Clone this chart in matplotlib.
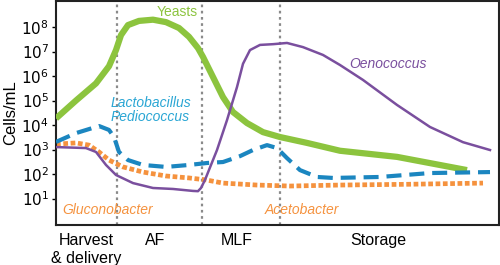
import numpy as np
import matplotlib
matplotlib.use("Agg")
import matplotlib.pyplot as plt
import matplotlib.transforms as mtrans

plt.rcParams['font.family'] = ['Liberation Sans', 'DejaVu Sans']

# x positions are in arbitrary time units across the process (0 = harvest start)
stage_labels = ["Harvest\n& delivery", "AF", "MLF", "Storage"]
stage_centers = [30, 99, 181, 322]
dividers = [61, 146, 224]

# values given as log10(cells/mL)
yeast_x = [0, 20, 40, 53, 60, 65, 72, 83, 97, 110, 123, 133, 142, 147, 157, 167, 177, 191, 207, 224, 251, 284, 341, 411]
yeast_log = [4.27, 5.0, 5.7, 6.4, 7.06, 7.67, 8.08, 8.25, 8.3, 8.2, 7.96, 7.6, 7.14, 6.78, 5.96, 5.14, 4.53, 4.08, 3.71, 3.51, 3.27, 2.95, 2.7, 2.16]

oeno_x = [0, 30, 40, 50, 60, 77, 97, 117, 137, 142, 145, 149, 161, 171, 181, 187, 194, 204, 217, 231, 247, 267, 284, 307, 341, 374, 407, 434]
oeno_log = [3.1, 3.06, 2.9, 2.37, 1.96, 1.63, 1.43, 1.39, 1.31, 1.3, 1.43, 1.76, 2.98, 4.2, 5.55, 6.5, 7.06, 7.27, 7.3, 7.35, 7.18, 6.86, 6.45, 5.84, 4.82, 3.92, 3.3, 2.98]

lacto_x = [0, 20, 43, 53, 58, 63, 72, 87, 110, 133, 151, 167, 184, 197, 211, 221, 231, 244, 261, 277, 324, 374, 434]
lacto_log = [3.31, 3.67, 3.96, 3.8, 3.51, 2.9, 2.57, 2.37, 2.29, 2.37, 2.45, 2.49, 2.73, 2.98, 3.18, 3.06, 2.65, 2.16, 1.88, 1.84, 1.88, 2.04, 2.08]

aceto_x = [0, 20, 33, 43, 53, 67, 87, 110, 133, 150, 167, 201, 234, 284, 350, 427]
aceto_log = [3.22, 3.27, 3.18, 2.9, 2.57, 2.29, 2.08, 1.92, 1.84, 1.76, 1.63, 1.55, 1.51, 1.55, 1.58, 1.63]

green = "#8cc43e"
purple = "#7a4f9e"
blue = "#1b86c0"
lblue = "#2aa6d4"
orange = "#f5923e"

fig = plt.figure(figsize=(5, 2.65), dpi=100)
ax = fig.add_axes([0.112, 0.151, 0.886, 0.845])
ax.set_yscale("log")
ax.set_xlim(0, 443)
ax.set_ylim(10**-0.08, 10**9.06)

for d in dividers:
    ax.axvline(d, color="#8a8a8a", linestyle=(0, (1.2, 1.6)), linewidth=1.6, zorder=1)

ax.plot(yeast_x, 10**np.array(yeast_log), color=green, lw=4.5, solid_capstyle="butt", solid_joinstyle="round", zorder=3)
ax.plot(oeno_x, 10**np.array(oeno_log), color=purple, lw=1.8, solid_joinstyle="round", zorder=4)
ax.plot(lacto_x, 10**np.array(lacto_log), color=blue, lw=3.0, linestyle=(0, (3.6, 1.9)), dash_capstyle="butt", zorder=5)
ax.plot(aceto_x, 10**np.array(aceto_log), color=orange, lw=3.4, linestyle=(0, (1.0, 0.55)), dash_capstyle="butt", zorder=2)

ax.set_yticks([10**k for k in range(1, 9)])
ax.set_yticklabels([r"$10^{%d}$" % k for k in range(1, 9)])
ax.yaxis.set_minor_locator(matplotlib.ticker.NullLocator())
ax.tick_params(axis="y", direction="out", length=3, width=1, labelsize=11, pad=2)
ax.set_xticks([])
for s in ax.spines.values():
    s.set_linewidth(1.5)
    s.set_color("#222222")
ax.set_ylabel("Cells/mL", fontsize=12, labelpad=2)

ax.text(121, 10**8.62, "Yeasts", color=green, fontsize=10, ha="center", va="center")
ax.text(332, 10**6.5, "Oenococcus", color=purple, fontsize=10, ha="center", va="center", style="italic")
ax.text(55, 10**4.9, "Lactobacillus", color=lblue, fontsize=10, ha="left", va="center", style="italic")
ax.text(55, 10**4.33, "Pediococcus", color=lblue, fontsize=10, ha="left", va="center", style="italic")
ax.text(6, 10**0.55, "Gluconobacter", color=orange, fontsize=10, ha="left", va="center", style="italic")
ax.text(209, 10**0.55, "Acetobacter", color=orange, fontsize=10, ha="left", va="center", style="italic")

tr = mtrans.blended_transform_factory(ax.transData, ax.transAxes)
for lab, c in zip(stage_labels, stage_centers):
    ax.text(c, -0.035, lab, transform=tr, ha="center", va="top", fontsize=11.5, linespacing=1.25)

fig.savefig("out.png", dpi=100)
